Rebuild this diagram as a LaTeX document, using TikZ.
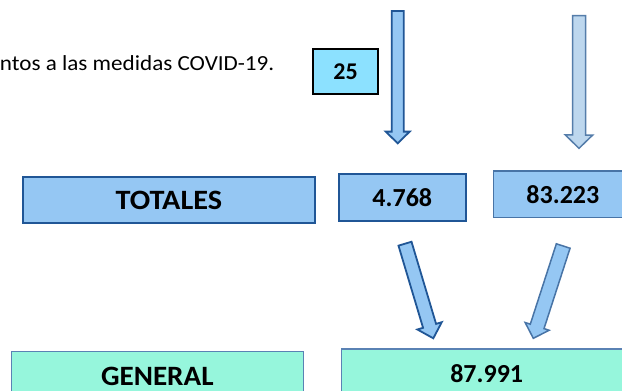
\documentclass[tikz,border=0pt]{standalone}
\usepackage{fontspec}
\setmainfont{Carlito}
\usetikzlibrary{calc}
\definecolor{boxblue}{RGB}{149,199,243}
\definecolor{darkblue}{RGB}{32,86,150}
\definecolor{midblue}{RGB}{72,116,166}
\definecolor{greenfill}{RGB}{150,246,220}
\definecolor{greenline}{RGB}{90,130,180}
\definecolor{cyanfill}{RGB}{140,225,255}
\definecolor{paleblue}{RGB}{189,215,238}
\definecolor{paleline}{RGB}{85,125,170}
\tikzset{
  bluebox/.style={draw=darkblue, fill=boxblue, line width=1.8pt, rectangle, inner sep=0pt, font=\bfseries\fontsize{26}{30}\selectfont},
  bluebox2/.style={bluebox, draw=midblue, line width=1.5pt},
  greenbox/.style={draw=greenline, fill=greenfill, line width=1.5pt, rectangle, inner sep=0pt, font=\bfseries\fontsize{26}{30}\selectfont},
  cyanbox/.style={draw=black, fill=cyanfill, line width=1.8pt, rectangle, inner sep=0pt, font=\bfseries\fontsize{24}{28}\selectfont},
  darrow/.style={draw=darkblue, fill=boxblue, line width=1.8pt, line join=miter},
  marrow/.style={draw=midblue, fill=boxblue, line width=1.5pt, line join=miter},
  parrow/.style={draw=paleline, fill=paleblue, line width=1.5pt, line join=miter},
}
\newcommand\blockarrow[6]{%
  \coordinate (ba-h) at ($(#3)!#6!(#2)$);
  \draw[#1] ($(#2)!#4!90:(#3)$) -- ($(ba-h)!#4!90:(#3)$) -- ($(ba-h)!#5!90:(#3)$) -- (#3)
    -- ($(ba-h)!#5!-90:(#3)$) -- ($(ba-h)!#4!-90:(#3)$) -- ($(#2)!#4!-90:(#3)$) -- cycle;
}
\begin{document}
\begin{tikzpicture}[x=1pt,y=-1pt]
\useasboundingbox (0,0) rectangle (622,391);
\clip (0,0) rectangle (622,391);
\fill[white] (0,0) rectangle (622,391);
% top text
\node[anchor=base east, inner sep=0pt, font=\fontsize{21.5}{26}\selectfont] (caption) at (274.5,70.5) {\scalebox{1.075}[1]{ntos a las medidas COVID-19.}};
% boxes
\node[cyanbox, minimum width=65pt, minimum height=44.7pt] (n25) at (345.5,71.7) {25};
\node[bluebox, minimum width=292.3pt, minimum height=46pt, font=\bfseries\fontsize{28}{32}\selectfont] (totales) at (168.9,200.3) {\scalebox{1.08}[1]{TOTALES}};
\node[bluebox, minimum width=126.7pt, minimum height=46.4pt] (n4768) at (402.3,197.5) {4.768};
\node[bluebox2, minimum width=138.5pt, minimum height=46.3pt] (n83223) at (562.9,194.2) {83.223};
\node[greenbox, minimum width=292pt, minimum height=50pt, font=\bfseries\fontsize{28}{32}\selectfont] (general) at (157.3,376.5) {\scalebox{1.04}[1]{GENERAL}};
\node[greenbox, minimum width=290pt, minimum height=50pt] (n87991) at (486.7,374) {87.991};
% arrow end points
\coordinate (v1s) at (397.7,11);
\coordinate (v1e) at (397.7,143.3);
\coordinate (v2s) at (579.2,15.7);
\coordinate (v2e) at (579.0,148.3);
\coordinate (d1s) at (405.0,243.7);
\coordinate (d1e) at (433.3,338.3);
\coordinate (d2s) at (563.2,246.0);
\coordinate (d2e) at (533.3,338.3);
\blockarrow{darrow}{v1s}{v1e}{6pt}{12pt}{11.7pt}
\blockarrow{parrow}{v2s}{v2e}{6.5pt}{13.7pt}{13.3pt}
\blockarrow{darrow}{d1s}{d1e}{6.8pt}{12.7pt}{13pt}
\blockarrow{marrow}{d2s}{d2e}{7.2pt}{12.6pt}{12.5pt}
\end{tikzpicture}
\end{document}
